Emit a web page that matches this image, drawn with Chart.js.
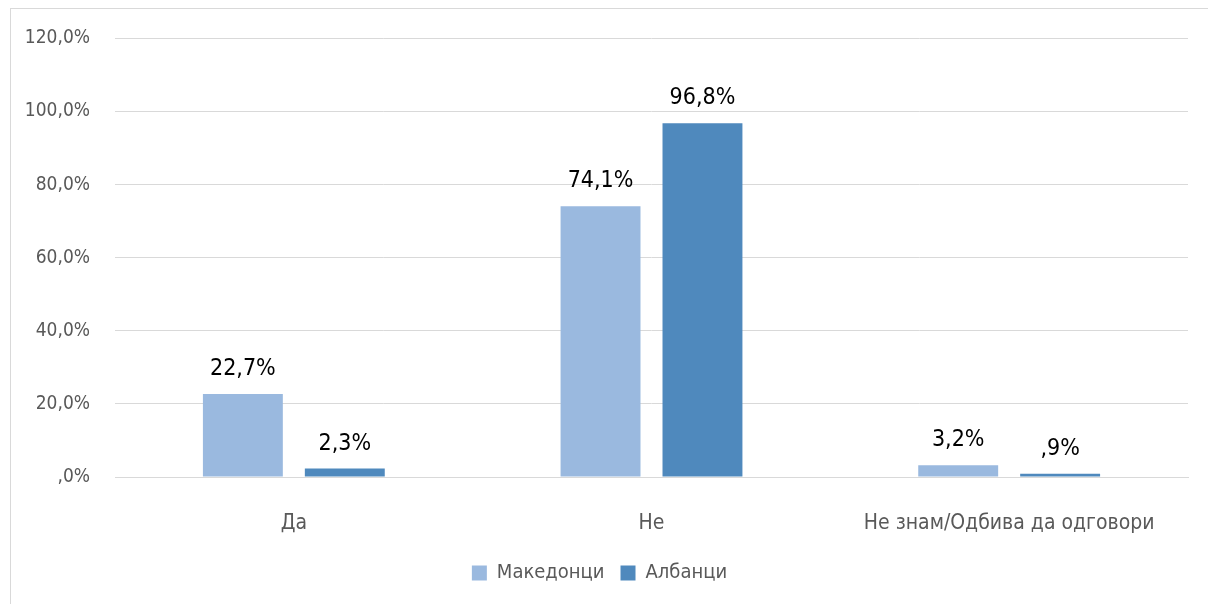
<!DOCTYPE html>
<html>
<head>
<meta charset="utf-8">
<script src="https://cdn.jsdelivr.net/npm/chart.js@4.4.0/dist/chart.umd.min.js"></script>
<style>
  html, body { margin: 0; padding: 0; background: #fff; overflow: hidden; }
  #frame { position: absolute; left: 10px; top: 8px; width: 1210px; height: 610px;
           border: 1px solid #d9d9d9; box-sizing: border-box; }
  #wrap { position: absolute; left: 0; top: -7px; width: 1197px; height: 602px; }
</style>
</head>
<body>
<div id="frame"><div id="wrap"><canvas id="chart"></canvas></div></div>
<script>
// Chart data
const categories = ['Да', 'Не', 'Не знам/Одбива да одговори'];
const macedonians = [22.7, 74.1, 3.2];
const albanians = [2.3, 96.8, 0.9];
const seriesNames = ['Македонци', 'Албанци'];
const yTicks = [0, 20, 40, 60, 80, 100, 120];

const FONT = "'Liberation Sans Narrow', 'DejaVu Sans Condensed', sans-serif";

// Format like "22,7%" / ",9%"
const fmtPct = (v) => {
  let s = v.toFixed(1).replace('.', ',');
  if (s.startsWith('0')) s = s.slice(1);
  return s + '%';
};

// Simple value labels above bars
const barLabels = {
  id: 'barLabels',
  afterDatasetsDraw(chart) {
    const ctx = chart.ctx;
    ctx.save();
    ctx.font = '23px ' + FONT;
    ctx.fillStyle = '#000';
    ctx.textAlign = 'center';
    ctx.textBaseline = 'middle';
    chart.data.datasets.forEach((ds, i) => {
      chart.getDatasetMeta(i).data.forEach((bar, j) => {
        ctx.fillText(fmtPct(ds.data[j]), bar.x, bar.y - 25);
      });
    });
    ctx.restore();
  }
};

const ctx = document.getElementById('chart').getContext('2d');
new Chart(ctx, {
  type: 'bar',
  data: {
    labels: categories,
    datasets: [
      {
        label: seriesNames[0],
        data: macedonians,
        backgroundColor: '#9ab9df',
        barPercentage: 0.784,
        categoryPercentage: 0.57
      },
      {
        label: seriesNames[1],
        data: albanians,
        backgroundColor: '#4f89bd',
        barPercentage: 0.784,
        categoryPercentage: 0.57
      }
    ]
  },
  options: {
    responsive: true,
    maintainAspectRatio: false,
    animation: false,
    layout: { padding: { top: 6, right: 20, left: 0, bottom: 11 } },
    plugins: {
      legend: {
        position: 'bottom',
        labels: {
          boxWidth: 15,
          boxHeight: 15,
          padding: 16,
          color: '#595959',
          font: { family: FONT, size: 20 }
        }
      },
      tooltip: { enabled: false }
    },
    scales: {
      x: {
        grid: { display: false, drawTicks: false },
        border: { color: '#d9d9d9', width: 1 },
        ticks: { color: '#595959', padding: 34, font: { family: FONT, size: 21 } },
        afterFit: (scale) => { scale.height = 70; }
      },
      y: {
        min: 0,
        max: 120,
        afterBuildTicks: (scale) => { scale.ticks = yTicks.map(v => ({ value: v })); },
        grid: { color: '#d9d9d9', drawTicks: false },
        border: { display: false },
        ticks: {
          color: '#595959',
          padding: 25,
          font: { family: FONT, size: 19 },
          callback: (v) => fmtPct(v)
        },
        afterFit: (scale) => { scale.width = 104; }
      }
    }
  },
  plugins: [barLabels]
});
</script>
</body>
</html>
